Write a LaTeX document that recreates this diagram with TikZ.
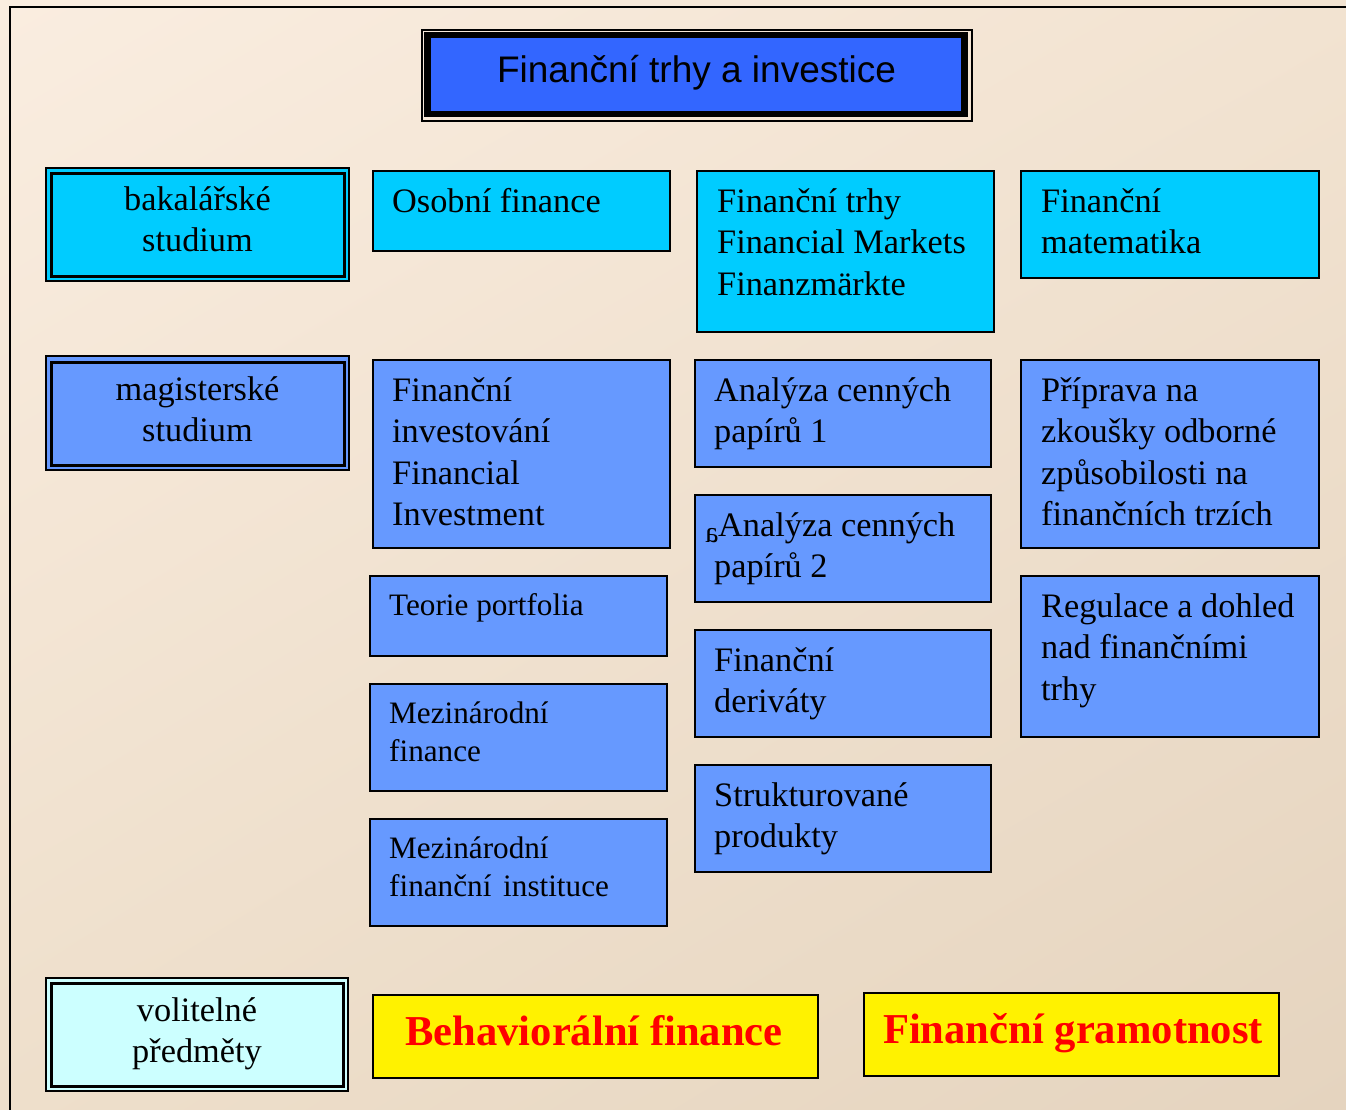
\documentclass[tikz,border=0pt]{standalone}
\usepackage{fontspec}
\setmainfont{Liberation Serif}
\newfontfamily\titlefont{Liberation Sans}
\usetikzlibrary{calc,shadings}
\definecolor{boxcyan}{HTML}{00CCFF}
\definecolor{boxblue}{HTML}{6699FF}
\definecolor{boxlight}{HTML}{CCFFFF}
\definecolor{titleblue}{HTML}{3366FF}
\definecolor{bgA}{HTML}{FAEDE0}
\definecolor{bgB}{HTML}{F2E3D1}
\definecolor{bgC}{HTML}{EEDFCB}
\definecolor{bgD}{HTML}{E5D4BF}
\newcommand\fl{\rule{0pt}{30pt}}
\tikzset{
  boxbase/.style={draw=black, line width=1.6pt, rectangle, inner sep=0pt, anchor=north west},
  cyanbox/.style={boxbase, fill=boxcyan},
  bluebox/.style={boxbase, fill=boxblue},
  yellowbox/.style={boxbase, fill=yellow},
  dblouter/.style={draw=black, line width=2pt, rectangle, inner sep=0pt, anchor=north west},
  dblinner/.style={draw=black, line width=3pt, rectangle, inner sep=0pt, anchor=north west},
  bigtxt/.style={anchor=north west, inner sep=0pt, align=left, font=\fontsize{34.3}{41.5}\selectfont},
  midtxt/.style={anchor=north west, inner sep=0pt, align=left, font=\fontsize{31.2}{38.5}\selectfont},
  ctxt/.style={anchor=north, inner sep=0pt, align=center, font=\fontsize{34.3}{41}\selectfont},
  boldtxt/.style={anchor=base, inner sep=0pt, text=red, font=\fontsize{42.6}{46}\selectfont\bfseries},
}
\begin{document}
\begin{tikzpicture}[x=1pt,y=-1pt]
\useasboundingbox (0,0) rectangle (1346,1109);
\shade[upper left=bgA, upper right=bgB, lower left=bgC, lower right=bgD] (0,0) rectangle (1346,1109);
% outer frame
\draw[line width=2.2pt] (10,1112) -- (10,7) -- (1350,7);

% title
\node[draw=black, line width=1.5pt, rectangle, inner sep=0pt, anchor=north west, minimum width=550, minimum height=91] (titleframe) at (421,29) {};
\node[fill=black, rectangle, inner sep=0pt, anchor=north west, minimum width=544, minimum height=85] (titleblack) at (424,32) {};
\node[fill=titleblue, rectangle, inner sep=0pt, anchor=north west, minimum width=530, minimum height=73] (titleblue) at (431,38) {};
\node[anchor=base, inner sep=0pt, font=\fontsize{37}{40}\selectfont\titlefont] (titletext) at (696.5,82) {Finanční trhy a investice};

% double-border labels
\node[dblouter, fill=boxcyan, minimum width=303, minimum height=113] (bak) at (45,167) {};
\node[dblinner, minimum width=293, minimum height=103] (bakin) at (50,172) {};
\node[ctxt] (baktext) at ($(bak.north)+(0,13)$) {\fl bakalářské\\studium};

\node[dblouter, fill=boxblue, minimum width=303, minimum height=114] (mag) at (45,355) {};
\node[dblinner, minimum width=293, minimum height=103] (magin) at (50,361) {};
\node[ctxt] (magtext) at ($(mag.north)+(0,15)$) {\fl magisterské\\studium};

\node[dblouter, fill=boxlight, minimum width=302, minimum height=113] (vol) at (45,977) {};
\node[dblinner, minimum width=292, minimum height=103] (volin) at (50,982) {};
\node[ctxt] (voltext) at ($(vol.north)+(0,14)$) {\fl volitelné\\předměty};

% bachelor row
\node[cyanbox, minimum width=297, minimum height=80] (osobni) at (372,170) {};
\node[bigtxt] (osobnitext) at ($(osobni.north west)+(20,12)$) {\fl Osobní finance};

\node[cyanbox, minimum width=297, minimum height=161] (trhy) at (696,170) {};
\node[bigtxt] (trhytext) at ($(trhy.north west)+(21,12)$) {\fl Finanční trhy\\Financial Markets\\Finanzmärkte};

\node[cyanbox, minimum width=298, minimum height=107] (mat) at (1020,170) {};
\node[bigtxt] (mattext) at ($(mat.north west)+(21,12)$) {\fl Finanční\\matematika};

% master column 1
\node[bluebox, minimum width=297, minimum height=188] (inv) at (372,359) {};
\node[bigtxt] (invtext) at ($(inv.north west)+(20,12)$) {\fl Finanční\\investování\\Financial\\Investment};

\node[bluebox, minimum width=297, minimum height=80] (port) at (369,575) {};
\node[midtxt] (porttext) at ($(port.north west)+(20,10)$) {\fl Teorie portfolia};

\node[bluebox, minimum width=297, minimum height=107] (mezf) at (369,683) {};
\node[midtxt] (mezftext) at ($(mezf.north west)+(20,10)$) {\fl Mezinárodní\\finance};

\node[bluebox, minimum width=297, minimum height=107] (mezi) at (369,818) {};
\node[midtxt] (mezitext) at ($(mezi.north west)+(20,10)$) {\fl Mezinárodní\\finanční\hspace{4pt} instituce};

% master column 2
\node[bluebox, minimum width=296, minimum height=107] (ana1) at (694,359) {};
\node[bigtxt] (ana1text) at ($(ana1.north west)+(20,12)$) {\fl Analýza cenných\\papírů 1};

\node[bluebox, minimum width=296, minimum height=107] (ana2) at (694,494) {};
\node[bigtxt] (ana2text) at ($(ana2.north west)+(20,12)$) {\fl\hspace{4pt}Analýza cenných\\papírů 2};
\node[anchor=base west, inner sep=0pt, font=\fontsize{30}{30}\selectfont] (stray) at (705,542) {\reflectbox{a}};

\node[bluebox, minimum width=296, minimum height=107] (der) at (694,629) {};
\node[bigtxt] (dertext) at ($(der.north west)+(20,12)$) {\fl Finanční\\deriváty};

\node[bluebox, minimum width=296, minimum height=107] (str) at (694,764) {};
\node[bigtxt] (strtext) at ($(str.north west)+(20,12)$) {\fl Strukturované\\produkty};

% master column 3
\node[bluebox, minimum width=298, minimum height=188] (prip) at (1020,359) {};
\node[bigtxt] (priptext) at ($(prip.north west)+(21,12)$) {\fl Příprava na\\zkoušky odborné\\způsobilosti na\\finančních trzích};

\node[bluebox, minimum width=298, minimum height=161] (reg) at (1020,575) {};
\node[bigtxt] (regtext) at ($(reg.north west)+(21,12)$) {\fl Regulace a dohled\\nad finančními\\trhy};

% electives
\node[yellowbox, minimum width=445, minimum height=83] (beh) at (372,994) {};
\node[boldtxt] (behtext) at (594,1045) {Behaviorální finance};

\node[yellowbox, minimum width=415, minimum height=83] (gram) at (863,992) {};
\node[boldtxt] (gramtext) at (1073,1043) {Finanční gramotnost};
\end{tikzpicture}
\end{document}
